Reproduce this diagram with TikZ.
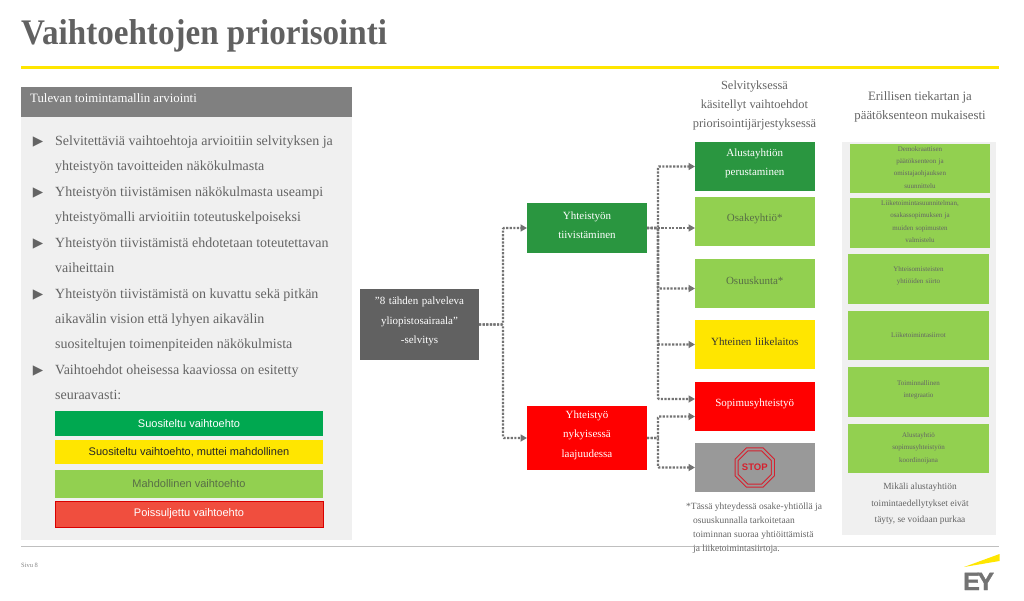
\documentclass[tikz,border=0pt]{standalone}
\usepackage{fontspec}
\usepackage{xcolor}
\usepackage{tikz}
\usetikzlibrary{shapes.geometric, arrows.meta, positioning, calc}
\setmainfont{Liberation Serif}
\newfontfamily\legendfont{Liberation Sans}
\newfontfamily\bulletfont{DejaVu Sans}
\newfontfamily\titlefont[FakeStretch=0.92]{Liberation Serif Bold}
\newfontfamily\logofont[FakeBold=1.5]{Liberation Sans Bold}
\definecolor{eyyellow}{RGB}{255,230,0}
\definecolor{txtgray}{RGB}{100,100,100}
\definecolor{hdrgray}{RGB}{128,128,128}
\definecolor{panelgray}{RGB}{240,240,240}
\definecolor{srcgray}{RGB}{97,97,97}
\definecolor{stopgray}{RGB}{153,153,153}
\definecolor{optgreen}{RGB}{42,150,64}
\definecolor{optlight}{RGB}{146,208,80}
\definecolor{optred}{RGB}{255,0,0}
\definecolor{leggreen}{RGB}{0,168,80}
\definecolor{legred}{RGB}{240,78,62}
\definecolor{stopred}{RGB}{214,32,46}
\definecolor{oliveink}{RGB}{88,110,70}
\tikzset{
  liftup/.style={execute at end node={\par\vspace{#1}}},
  optbox/.style={rectangle, minimum width=119.5pt, minimum height=49pt, inner sep=0pt, outer sep=0pt,
    text width=119.5pt, align=center, liftup=6pt, font=\fontsize{11}{19.5}\selectfont},
  stepbox/.style={optbox, minimum width=120pt, text width=120pt},
  roadbox/.style={rectangle, fill=optlight, minimum width=141pt, minimum height=49.5pt, inner sep=0pt, outer sep=0pt,
    text width=141pt, align=center, text=txtgray, font=\fontsize{7}{12.4}\selectfont},
  legbox/.style={rectangle, minimum width=268pt, inner sep=0pt, outer sep=0pt, align=center,
    font=\legendfont\fontsize{11}{13}\selectfont},
  bodytxt/.style={anchor=north west, inner sep=0pt, align=left, text=txtgray,
    font=\fontsize{14}{25}\selectfont},
  bulletmark/.style={anchor=center, inner sep=0pt, text=txtgray,
    font=\bulletfont\fontsize{13.5}{14}\selectfont},
  headtxt/.style={inner sep=0pt, align=center, text=txtgray, font=\fontsize{12.4}{19}\selectfont},
  dotarrow/.style={-{Triangle[length=6.5pt,width=7pt]}, color=hdrgray!90!black, line width=2.4pt,
    dash pattern=on 2.2pt off 1.4pt, rounded corners=1pt}
}
\begin{document}
\begin{tikzpicture}[x=1pt, y=-1pt]
  \useasboundingbox (0,0) rectangle (1024,601);
  % title and rules
  \node[anchor=base west, inner sep=0pt, text=srcgray, font=\titlefont\fontsize{36}{40}\selectfont] (title) at (21,45) {Vaihtoehtojen priorisointi};
  \fill[eyyellow] (21,66.5) rectangle (999,69.5);
  \fill[black!25] (21,545.5) rectangle (999,547);
  % left panel
  \fill[panelgray] (21,117) rectangle (352,540);
  \fill[hdrgray] (21,87.5) rectangle (352,117.5);
  \node[anchor=west, inner sep=0pt, text=white, font=\fontsize{12.8}{14}\selectfont] (panelhead) at (30,98.5) {Tulevan toimintamallin arviointi};
  \node[bulletmark] (b1) at (38,142) {▶};
  \node[bulletmark] (b2) at (38,193) {▶};
  \node[bulletmark] (b3) at (38,244) {▶};
  \node[bulletmark] (b4) at (38,295) {▶};
  \node[bulletmark] (b5) at (38,371) {▶};
  \node[bodytxt] (t1) at (55,136) {Selvitettäviä vaihtoehtoja arvioitiin selvityksen ja\\yhteistyön tavoitteiden näkökulmasta};
  \node[bodytxt] (t2) at (55,187) {Yhteistyön tiivistämisen näkökulmasta useampi\\yhteistyömalli arvioitiin toteutuskelpoiseksi};
  \node[bodytxt] (t3) at (55,238) {Yhteistyön tiivistämistä ehdotetaan toteutettavan\\vaiheittain};
  \node[bodytxt] (t4) at (55,289) {Yhteistyön tiivistämistä on kuvattu sekä pitkän\\aikavälin vision että lyhyen aikavälin\\suositeltujen toimenpiteiden näkökulmista};
  \node[bodytxt] (t5) at (55,365) {Vaihtoehdot oheisessa kaaviossa on esitetty\\seuraavasti:};
  % legend
  \node[legbox, anchor=north west, fill=leggreen, minimum height=25pt, text=white] (leg1) at (55,411) {Suositeltu vaihtoehto};
  \node[legbox, below=4pt of leg1, fill=eyyellow, minimum height=24pt, text=black!85] (leg2) {Suositeltu vaihtoehto, muttei mahdollinen};
  \node[legbox, below=6pt of leg2, fill=optlight, minimum height=28pt, text=oliveink] (leg3) {Mahdollinen vaihtoehto};
  \node[legbox, below=3pt of leg3, fill=legred, draw=optred!85!black, line width=0.6pt, minimum height=26pt, text=white] (leg4) {Poissuljettu vaihtoehto};
  % flow nodes
  \node[stepbox, fill=srcgray, text=white, minimum width=119pt, text width=119pt, minimum height=71pt, anchor=north west] (source) at (360,289) {”8 tähden palveleva\\yliopistosairaala”\\-selvitys};
  \node[stepbox, fill=optgreen, text=white, minimum height=50pt, anchor=north west] (tiivis) at (527,203) {Yhteistyön\\tiivistäminen};
  \node[stepbox, fill=optred, text=white, minimum height=64pt, anchor=north west] (nyky) at (527,406) {Yhteistyö\\nykyisessä\\laajuudessa};
  \node[optbox, fill=optgreen, text=white, anchor=north west] (alusta) at (695,142) {Alustayhtiön\\perustaminen};
  \node[optbox, fill=optlight, text=oliveink, below=6pt of alusta] (osake) {Osakeyhtiö*};
  \node[optbox, fill=optlight, text=oliveink, below=13pt of osake] (osuus) {Osuuskunta*};
  \node[optbox, fill=eyyellow, text=black!80, below=12pt of osuus] (yhteinen) {Yhteinen liikelaitos};
  \node[optbox, fill=optred, text=white, below=13pt of yhteinen] (sopimus) {Sopimusyhteistyö};
  \node[optbox, fill=stopgray, below=12pt of sopimus] (stopbox) {};
  \node[regular polygon, regular polygon sides=8, draw=stopred, double=stopgray, double distance=2pt, line width=1pt,
    minimum size=37pt, inner sep=0pt, text=stopred, font=\legendfont\bfseries\fontsize{9.5}{11}\selectfont] (stopsign) at (stopbox.center) {STOP};
  % connectors
  \draw[dotarrow] (source.east) -- ++(24,0) |- (tiivis.west);
  \draw[dotarrow] (source.east) -- ++(24,0) |- (nyky.west);
  \draw[dotarrow] (tiivis.east) -- ++(11,0) |- (alusta.west);
  \draw[dotarrow] (tiivis.east) -- (tiivis.east -| osake.west);
  \draw[dotarrow] (tiivis.east) -- ++(11,0) |- ([yshift=-5pt]osuus.west);
  \draw[dotarrow] (tiivis.east) -- ++(11,0) |- (yhteinen.west);
  \draw[dotarrow] (tiivis.east) -- ++(11,0) |- ([yshift=7.5pt]sopimus.west);
  \draw[dotarrow] (nyky.east) -- ++(11,0) |- ([yshift=-10pt]sopimus.west);
  \draw[dotarrow] (nyky.east) -- ++(11,0) |- (stopbox.west);
  % column headings and footnote
  \node[headtxt] (headopt) at (754.5,106) {Selvityksessä\\käsitellyt vaihtoehdot\\priorisointijärjestyksessä};
  \node[headtxt, font=\fontsize{12.8}{19}\selectfont] (headroad) at (920,106.5) {Erillisen tiekartan ja\\päätöksenteon mukaisesti};
  \node[anchor=north west, inner sep=0pt, align=left, text=txtgray, font=\fontsize{9.5}{14}\selectfont] (footnote) at (686,503) {*Tässä yhteydessä osake-yhtiöllä ja\\\hspace*{7pt}osuuskunnalla tarkoitetaan\\\hspace*{7pt}toiminnan suoraa yhtiöittämistä\\\hspace*{7pt}ja liiketoimintasiirtoja.};
  % right panel
  \fill[panelgray] (842,142) rectangle (996,535);
  \node[roadbox, anchor=north west, minimum width=140pt, text width=140pt, liftup=3pt] (road1) at (850,144) {Demokraattisen\\päätöksenteon ja\\omistajaohjauksen\\suunnittelu};
  \node[roadbox, below=5pt of road1, minimum width=140pt, text width=140pt, liftup=3pt] (road2) {Liiketoimintasuunnitelman,\\osakassopimuksen ja\\muiden sopimusten\\valmistelu};
  \node[roadbox, anchor=north west, liftup=6pt] (road3) at (848,254) {Yhteisomisteisten\\yhtiöiden siirto};
  \node[roadbox, below=7pt of road3] (road4) {Liiketoimintasiirrot};
  \node[roadbox, below=7pt of road4, liftup=4pt] (road5) {Toiminnallinen\\integraatio};
  \node[roadbox, below=7pt of road5] (road6) {Alustayhtiö\\sopimusyhteistyön\\koordinoijana};
  \node[inner sep=0pt, align=center, text=txtgray, font=\fontsize{9.4}{16.5}\selectfont] (roadnote) at (920,504) {Mikäli alustayhtiön\\toimintaedellytykset eivät\\täyty, se voidaan purkaa};
  % footer
  \node[anchor=west, inner sep=0pt, text=txtgray!80, font=\fontsize{6.5}{7}\selectfont] (pageno) at (21,565) {Sivu 8};
  \fill[eyyellow] (964,567) -- (999.5,554) -- (999.5,561) -- cycle;
  \node[anchor=base west, inner sep=0pt, text=black!55, font=\logofont\fontsize{25}{26}\selectfont] (eylogo) at (963,590) {E\kern-2.5pt Y};
\end{tikzpicture}
\end{document}
